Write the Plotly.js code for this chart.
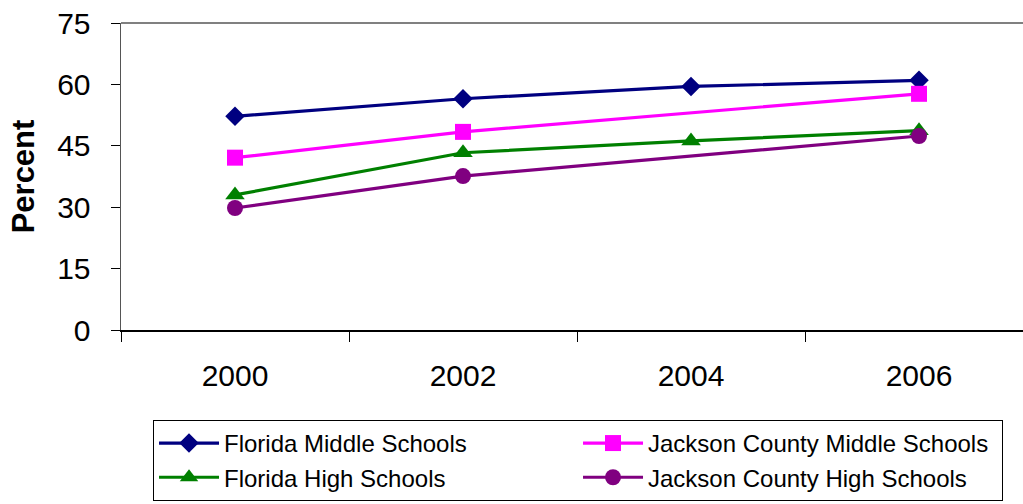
<!DOCTYPE html>
<html>
<head>
<meta charset="utf-8">
<script src="https://cdn.plot.ly/plotly-3.0.1.min.js"></script>
<style>html,body{margin:0;padding:0;background:#fff;}#chart{width:1023px;height:504px;}</style>
</head>
<body>
<div id="chart"></div>
<script>
const years = ['2000', '2002', '2004', '2006'];
const floridaMiddle = [52.2, 56.5, 59.5, 61.0];
const jacksonMiddle = [42.1, 48.4, null, 57.7];
const floridaHigh = [33.0, 43.3, 46.2, 48.7];
const jacksonHigh = [29.8, 37.6, null, 47.4];
const yTicks = [0, 15, 30, 45, 60, 75];

const FONT = 'Liberation Sans, Arial, sans-serif';

function series(name, y, color, symbol, size) {
  return {
    type: 'scatter', mode: 'lines+markers', name: name,
    x: years, y: y, connectgaps: true,
    line: {color: color, width: 3.2},
    marker: {color: color, symbol: symbol, size: size, line: {width: 0}}
  };
}

const data = [
  series('Florida Middle Schools', floridaMiddle, '#000080', 'diamond', 15),
  series('Jackson County Middle Schools', jacksonMiddle, '#FF00FF', 'square', 16),
  series('Florida High Schools', floridaHigh, '#008000', 'triangle-up', 17),
  series('Jackson County High Schools', jacksonHigh, '#800080', 'circle', 16)
];

const layout = {
  width: 1023, height: 504,
  margin: {l: 121, r: 0, t: 23, b: 174, pad: 0, autoexpand: false},
  paper_bgcolor: '#ffffff', plot_bgcolor: '#ffffff',
  font: {family: FONT, color: '#000000', size: 30},
  showlegend: true,
  xaxis: {
    type: 'category', range: [-0.5, 3.456],
    showgrid: false, zeroline: false,
    showline: true, linecolor: '#000000', linewidth: 1.5,
    ticks: 'outside', tickson: 'boundaries', ticklen: 10, tickcolor: '#000000', tickwidth: 1,
    tickfont: {family: FONT, size: 30, color: '#000000'},
    ticklabelstandoff: 18,
    automargin: false,
    fixedrange: true
  },
  yaxis: {
    range: [0, 75], tickvals: yTicks, ticktext: yTicks.map(String),
    showgrid: false, zeroline: false,
    showline: true, linecolor: '#555555', linewidth: 1.5,
    ticks: 'outside', ticklen: 9, tickcolor: '#000000', tickwidth: 1,
    tickfont: {family: FONT, size: 30, color: '#000000'},
    ticklabelstandoff: 14,
    title: {text: 'Percent', font: {family: FONT, size: 31, color: '#000000', weight: 'bold'}, standoff: 13},
    automargin: false,
    fixedrange: true
  },
  legend: {
    orientation: 'h', x: 0.0355, xanchor: 'left', y: -0.293, yanchor: 'top',
    bordercolor: '#000000', borderwidth: 1, bgcolor: '#ffffff',
    font: {family: FONT, size: 24, color: '#000000'},
    entrywidth: 349, entrywidthmode: 'pixels', itemwidth: 60,
    traceorder: 'normal'
  },
  shapes: [
    {type: 'line', xref: 'paper', yref: 'paper', x0: 0, x1: 1, y0: 1, y1: 1,
     line: {color: '#808080', width: 2}}
  ]
};

Plotly.newPlot('chart', data, layout, {displayModeBar: false, staticPlot: true});
</script>
</body>
</html>
